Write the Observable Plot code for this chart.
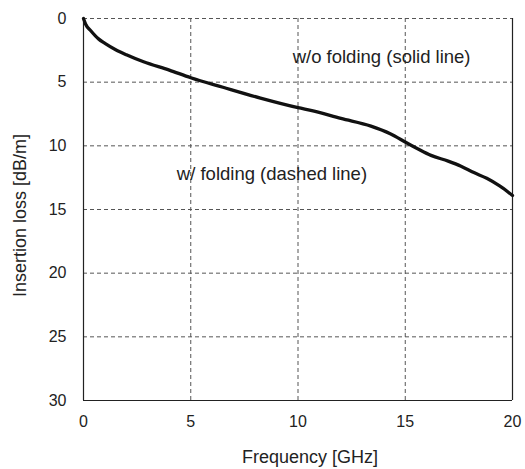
<!DOCTYPE html>
<html>
<head>
<meta charset="utf-8">
<script src="https://cdn.jsdelivr.net/npm/d3@7"></script>
<script src="https://cdn.jsdelivr.net/npm/@observablehq/plot@0.6"></script>
<style>
  html, body { margin: 0; padding: 0; background: #fff; }
  #chart { width: 525px; height: 469px; }
</style>
</head>
<body>
<div id="chart"></div>
<script>
// Measured curve (w/o folding, solid line)
const freqGHz = [0, 0.1, 0.33, 0.7, 1, 1.5, 2, 2.8, 4, 5, 6.5, 8.25, 10, 10.7, 12, 13.4, 14.3, 15.1, 15.6, 16.2, 17, 17.6, 18.2, 18.8, 19.4, 20];
const lossDb  = [0, 0.45, 0.94, 1.6, 1.95, 2.45, 2.85, 3.4, 4.05, 4.65, 5.4, 6.25, 7.0, 7.25, 7.85, 8.45, 9.05, 9.8, 10.25, 10.75, 11.2, 11.6, 12.1, 12.55, 13.15, 13.9];

const xTicks = [0, 5, 10, 15, 20];
const yTicks = [0, 5, 10, 15, 20, 25, 30];
const xGrid = [5, 10, 15];
const yGrid = [0, 5, 10, 15, 20, 25];

const xTitle = "Frequency [GHz]";
const yTitle = "Insertion loss [dB/m]";

const noteText = ["w/o folding (solid line)", "w/ folding (dashed line)"];
const noteX = [9.75, 4.35];
const noteY = [3.05, 12.2];

const curve = freqGHz.map((f, i) => ({f, l: lossDb[i]}));
const notes = noteText.map((t, i) => ({t, x: noteX[i], y: noteY[i]}));

const grid = "#555";
const chart = Plot.plot({
  width: 525,
  height: 469,
  marginLeft: 83,
  marginRight: 13,
  marginTop: 18,
  marginBottom: 69,
  style: {fontFamily: "'Liberation Sans', Arial, sans-serif", fontSize: "16px", color: "#222", background: "#fff", overflow: "visible"},
  x: {domain: [0, 20]},
  y: {domain: [0, 30], reverse: true},
  marks: [
    Plot.ruleX(xGrid, {stroke: grid, strokeWidth: 1, strokeDasharray: "4,3"}),
    Plot.ruleY(yGrid, {stroke: grid, strokeWidth: 1, strokeDasharray: "4,3"}),
    Plot.ruleX([0, 20], {stroke: "#222", strokeWidth: 1.2}),
    Plot.ruleY([30], {stroke: "#222", strokeWidth: 1.2}),
    Plot.axisX({ticks: xTicks, tickSize: 0, tickPadding: 15, label: null, fontSize: 16}),
    Plot.axisY({ticks: yTicks, tickSize: 0, tickPadding: 17, label: null, fontSize: 16}),
    Plot.text([xTitle], {frameAnchor: "bottom", text: d => d, dx: 12, dy: 57, lineAnchor: "middle", textAnchor: "middle", fontSize: 18, fill: "#222"}),
    Plot.text([yTitle], {frameAnchor: "left", text: d => d, rotate: -90, dx: -63, dy: 6, lineAnchor: "middle", textAnchor: "middle", fontSize: 18, fill: "#222"}),
    Plot.line(curve, {x: "f", y: "l", stroke: "#111", strokeWidth: 3.3, curve: "monotone-x"}),
    Plot.text(notes, {x: "x", y: "y", text: "t", textAnchor: "start", fontSize: 18.5, fill: "#222"})
  ]
});
document.getElementById("chart").appendChild(chart);
</script>
</body>
</html>
